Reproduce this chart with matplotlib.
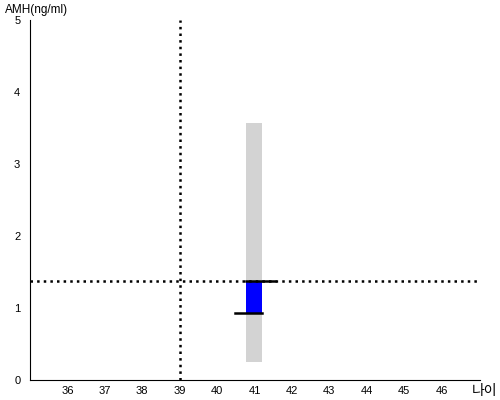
import matplotlib.pyplot as plt

plt.rcParams['font.family'] = ['Liberation Sans', 'Noto Sans CJK KR', 'DejaVu Sans']

# data
age = 41
amh = 1.38
amh_low = 0.93
range_low = 0.25
range_high = 3.57
ref_age = 39
ref_amh = 1.38
xticks = list(range(36, 47))
yticks = [0, 1, 2, 3, 4, 5]

fig = plt.figure(figsize=(5, 4), dpi=100)
ax = fig.add_axes([0.06, 0.05, 0.9, 0.9])

# gray reference range
ax.bar(age, range_high - range_low, bottom=range_low, width=0.43, color='#d3d3d3', zorder=1)
# blue bar
ax.bar(age, amh - amh_low, bottom=amh_low, width=0.43, color='#0000ff', zorder=2)
ax.plot([age - 0.215, age + 0.55], [amh, amh], color='k', lw=1.8, zorder=3)
ax.plot([age - 0.52, age + 0.215], [amh_low, amh_low], color='k', lw=1.8, zorder=3)

ax.axhline(ref_amh, color='k', ls=':', lw=1.8, zorder=2)
ax.axvline(ref_age, color='k', ls=':', lw=1.8, zorder=2)

ax.set_xlim(35, 47.03)
ax.set_ylim(0, 5)
ax.set_xticks(xticks)
ax.set_yticks(yticks)
ax.tick_params(length=0, labelsize=8)
ax.tick_params(axis='x', pad=4)
ax.tick_params(axis='y', pad=7)
ax.spines['top'].set_visible(False)
ax.spines['right'].set_visible(False)

fig.text(0.01, 0.99, 'AMH(ng/ml)', fontsize=8.5, va='top', ha='left')
fig.text(0.995, 0.005, '나이', fontsize=10, va='bottom', ha='right')

fig.savefig('out.png')
